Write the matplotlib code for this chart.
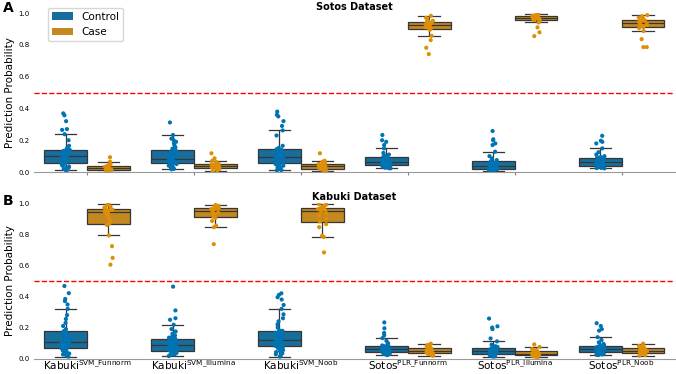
import numpy as np
import pandas as pd
import matplotlib
matplotlib.use('Agg')
import matplotlib.pyplot as plt
from matplotlib.patches import Patch
import seaborn as sns

plt.rcParams['mathtext.default'] = 'regular'

#! Data
models = ['Kabuki$^{SVM\\_Funnorm}$', 'Kabuki$^{SVM\\_Illumina}$', 'Kabuki$^{SVM\\_Noob}$',
          'Sotos$^{PLR\\_Funnorm}$', 'Sotos$^{PLR\\_Illumina}$', 'Sotos$^{PLR\\_Noob}$']
hue_order = ['Control', 'Case']

# panel A: Sotos dataset, one list per model
sotos_control = [
    [0.010, 0.015, 0.02, 0.025, 0.03, 0.035, 0.04, 0.045, 0.05, 0.054,
     0.056, 0.062, 0.068, 0.073, 0.078, 0.083, 0.088, 0.092, 0.096, 0.099,
     0.101, 0.105, 0.11, 0.115, 0.12, 0.124, 0.128, 0.132, 0.135, 0.137,
     0.14, 0.15, 0.165, 0.2, 0.238, 0.265, 0.27, 0.32, 0.357, 0.369],
    [0.017, 0.02, 0.024, 0.028, 0.032, 0.036, 0.04, 0.045, 0.05, 0.053,
     0.056, 0.06, 0.064, 0.068, 0.072, 0.075, 0.078, 0.081, 0.083, 0.084,
     0.086, 0.09, 0.095, 0.1, 0.105, 0.11, 0.117, 0.124, 0.13, 0.136,
     0.14, 0.146, 0.155, 0.165, 0.18, 0.19, 0.2, 0.21, 0.233, 0.312],
    [0.01, 0.013, 0.017, 0.022, 0.028, 0.034, 0.04, 0.045, 0.05, 0.054,
     0.056, 0.062, 0.068, 0.073, 0.078, 0.082, 0.086, 0.09, 0.093, 0.095,
     0.097, 0.101, 0.106, 0.112, 0.118, 0.124, 0.13, 0.135, 0.14, 0.142,
     0.144, 0.152, 0.165, 0.23, 0.262, 0.29, 0.32, 0.35, 0.36, 0.38],
    [0.023, 0.025, 0.027, 0.029, 0.031, 0.033, 0.036, 0.039, 0.042, 0.043,
     0.045, 0.047, 0.05, 0.053, 0.056, 0.058, 0.06, 0.062, 0.064, 0.065,
     0.067, 0.069, 0.071, 0.074, 0.077, 0.08, 0.083, 0.086, 0.089, 0.091,
     0.093, 0.097, 0.102, 0.11, 0.12, 0.149, 0.17, 0.19, 0.2, 0.233],
    [0.005, 0.007, 0.009, 0.011, 0.013, 0.014, 0.016, 0.017, 0.018, 0.019,
     0.021, 0.024, 0.027, 0.03, 0.033, 0.035, 0.036, 0.038, 0.039, 0.04,
     0.041, 0.043, 0.045, 0.048, 0.051, 0.054, 0.057, 0.06, 0.063, 0.066,
     0.068, 0.075, 0.085, 0.1, 0.128, 0.17, 0.18, 0.2, 0.206, 0.258],
    [0.023, 0.025, 0.027, 0.029, 0.031, 0.033, 0.035, 0.037, 0.038, 0.039,
     0.041, 0.043, 0.046, 0.049, 0.052, 0.055, 0.058, 0.061, 0.063, 0.064,
     0.066, 0.068, 0.071, 0.074, 0.077, 0.08, 0.083, 0.086, 0.088, 0.089,
     0.091, 0.094, 0.1, 0.11, 0.125, 0.149, 0.18, 0.19, 0.197, 0.228],
]
sotos_case = [
    [0.002, 0.005, 0.008, 0.01, 0.012, 0.014, 0.017, 0.02, 0.022, 0.024,
     0.026, 0.028, 0.03, 0.033, 0.036, 0.038, 0.045, 0.052, 0.065, 0.093],
    [0.005, 0.01, 0.015, 0.02, 0.024, 0.026, 0.029, 0.032, 0.035, 0.037,
     0.039, 0.041, 0.043, 0.045, 0.048, 0.051, 0.063, 0.071, 0.086, 0.118],
    [0.005, 0.008, 0.012, 0.016, 0.019, 0.022, 0.025, 0.028, 0.031, 0.034,
     0.037, 0.04, 0.042, 0.045, 0.048, 0.051, 0.056, 0.064, 0.071, 0.118],
    [0.742, 0.782, 0.83, 0.857, 0.895, 0.903, 0.907, 0.912, 0.918, 0.922,
     0.928, 0.932, 0.936, 0.94, 0.944, 0.946, 0.952, 0.96, 0.97, 0.983],
    [0.855, 0.879, 0.91, 0.941, 0.95, 0.956, 0.96, 0.963, 0.966, 0.968,
     0.971, 0.973, 0.975, 0.977, 0.98, 0.983, 0.985, 0.988, 0.991, 0.994],
    [0.786, 0.786, 0.836, 0.887, 0.905, 0.915, 0.92, 0.925, 0.93, 0.935,
     0.945, 0.948, 0.951, 0.954, 0.958, 0.962, 0.967, 0.972, 0.98, 0.987],
]

# panel B: Kabuki dataset
kabuki_control = [
    [0.013, 0.02, 0.027, 0.033, 0.039, 0.044, 0.05, 0.055, 0.059, 0.063, 0.066, 0.068,
     0.07, 0.073, 0.076, 0.079, 0.082, 0.085, 0.088, 0.091, 0.094, 0.097, 0.1, 0.103,
     0.107, 0.112, 0.118, 0.124, 0.13, 0.136, 0.142, 0.148, 0.155, 0.162, 0.169, 0.175,
     0.177, 0.19, 0.21, 0.23, 0.255, 0.28, 0.32, 0.348, 0.37, 0.384, 0.421, 0.467],
    [0.017, 0.022, 0.026, 0.03, 0.034, 0.037, 0.04, 0.042, 0.044, 0.046, 0.048, 0.049,
     0.051, 0.054, 0.057, 0.06, 0.064, 0.068, 0.072, 0.076, 0.08, 0.083, 0.086, 0.089,
     0.091, 0.094, 0.097, 0.1, 0.103, 0.106, 0.109, 0.112, 0.116, 0.12, 0.124, 0.127,
     0.129, 0.135, 0.14, 0.15, 0.16, 0.175, 0.19, 0.218, 0.25, 0.26, 0.31, 0.463],
    [0.013, 0.02, 0.028, 0.035, 0.042, 0.05, 0.056, 0.062, 0.067, 0.071, 0.075, 0.079,
     0.081, 0.085, 0.089, 0.093, 0.097, 0.101, 0.105, 0.108, 0.111, 0.114, 0.117, 0.119,
     0.121, 0.125, 0.13, 0.135, 0.14, 0.145, 0.15, 0.155, 0.16, 0.167, 0.173, 0.179,
     0.182, 0.2, 0.22, 0.24, 0.26, 0.285, 0.32, 0.345, 0.38, 0.395, 0.41, 0.42],
    [0.023, 0.025, 0.027, 0.029, 0.031, 0.033, 0.035, 0.036, 0.037, 0.038,
     0.041, 0.044, 0.046, 0.048, 0.05, 0.052, 0.054, 0.056, 0.057, 0.058,
     0.06, 0.062, 0.064, 0.066, 0.068, 0.07, 0.072, 0.075, 0.077, 0.079,
     0.081, 0.085, 0.09, 0.1, 0.115, 0.132, 0.15, 0.165, 0.195, 0.233],
    [0.013, 0.015, 0.017, 0.019, 0.021, 0.023, 0.025, 0.027, 0.028, 0.029,
     0.031, 0.033, 0.035, 0.037, 0.039, 0.041, 0.043, 0.045, 0.046, 0.047,
     0.049, 0.051, 0.053, 0.055, 0.057, 0.059, 0.061, 0.064, 0.066, 0.068,
     0.07, 0.075, 0.08, 0.09, 0.111, 0.13, 0.19, 0.2, 0.208, 0.258],
    [0.023, 0.025, 0.027, 0.029, 0.031, 0.033, 0.035, 0.037, 0.038, 0.039,
     0.041, 0.044, 0.047, 0.05, 0.052, 0.054, 0.056, 0.058, 0.059, 0.06,
     0.062, 0.064, 0.066, 0.068, 0.07, 0.072, 0.074, 0.077, 0.079, 0.081,
     0.083, 0.088, 0.095, 0.105, 0.12, 0.138, 0.18, 0.19, 0.21, 0.228],
]
kabuki_case = [
    [0.604, 0.648, 0.723, 0.792, 0.86, 0.87, 0.885, 0.905, 0.925, 0.938,
     0.944, 0.948, 0.952, 0.955, 0.958, 0.962, 0.97, 0.978, 0.986, 0.994],
    [0.736, 0.845, 0.855, 0.885, 0.905, 0.912, 0.92, 0.93, 0.938, 0.946,
     0.954, 0.958, 0.961, 0.964, 0.968, 0.971, 0.975, 0.979, 0.983, 0.987],
    [0.683, 0.782, 0.79, 0.845, 0.865, 0.882, 0.9, 0.92, 0.935, 0.948,
     0.956, 0.96, 0.963, 0.966, 0.969, 0.971, 0.975, 0.982, 0.99, 0.994],
    [0.019, 0.022, 0.025, 0.028, 0.031, 0.034, 0.037, 0.04, 0.045, 0.05,
     0.054, 0.057, 0.06, 0.063, 0.066, 0.07, 0.074, 0.08, 0.088, 0.096],
    [0.008, 0.012, 0.015, 0.018, 0.021, 0.023, 0.025, 0.027, 0.029, 0.031,
     0.034, 0.036, 0.039, 0.042, 0.046, 0.049, 0.055, 0.062, 0.075, 0.092],
    [0.019, 0.023, 0.026, 0.029, 0.031, 0.034, 0.037, 0.041, 0.045, 0.049,
     0.051, 0.054, 0.057, 0.06, 0.065, 0.07, 0.075, 0.082, 0.09, 0.096],
]


def long_table(control, case):
    rows = []
    for m, vals in zip(models, control):
        rows += [(m, 'Control', v) for v in vals]
    for m, vals in zip(models, case):
        rows += [(m, 'Case', v) for v in vals]
    return pd.DataFrame(rows, columns=['model', 'group', 'prob'])


pal = sns.color_palette('colorblind')[:2]
np.random.seed(3)

fig = plt.figure(figsize=(6.76, 3.74), dpi=100)
ax1 = fig.add_axes([0.0496, 0.540, 0.949, 0.425])
ax2 = fig.add_axes([0.0496, 0.041, 0.949, 0.416])

for ax, df, title in [(ax1, long_table(sotos_control, sotos_case), 'Sotos Dataset'),
                      (ax2, long_table(kabuki_control, kabuki_case), 'Kabuki Dataset')]:
    sns.boxplot(data=df, x='model', y='prob', hue='group', order=models, hue_order=hue_order,
                palette=pal, showfliers=False, width=0.8, linewidth=0.9, ax=ax, legend=False)
    sns.stripplot(data=df, x='model', y='prob', hue='group', order=models, hue_order=hue_order,
                  palette=pal, dodge=True, jitter=0.08, size=3, ax=ax, legend=False)
    ax.axhline(0.5, color='red', linestyle='--', linewidth=1)
    ax.set_ylim(0, 1.0)
    ax.set_xlim(-0.5, 5.5)
    ax.set_yticks([0, 0.2, 0.4, 0.6, 0.8, 1.0])
    ax.tick_params(axis='y', labelsize=5, length=0, pad=3)
    ax.tick_params(axis='x', length=2, color='gray')
    ax.set_xlabel('')
    ax.set_ylabel('Prediction Probability', fontsize=7.5, labelpad=2)
    ax.set_title(title, fontsize=7, weight='bold', pad=2)
    for s in ['top', 'right', 'left']:
        ax.spines[s].set_visible(False)
    ax.spines['bottom'].set_color('#999999')

ax1.set_xticklabels([])
ax2.tick_params(axis='x', labelsize=7.5, length=0, pad=0)

handles = [Patch(facecolor=sns.desaturate(c, 0.75), edgecolor='none', label=l)
           for c, l in zip(pal, hue_order)]
ax1.legend(handles=handles, loc='upper left', bbox_to_anchor=(0.022, 1.035),
           borderaxespad=0, fontsize=7.5, frameon=True)

fig.text(0.004, 0.997, 'A', fontsize=10, weight='bold', va='top')
fig.text(0.004, 0.482, 'B', fontsize=10, weight='bold', va='top')

fig.savefig('out.png', dpi=100)
